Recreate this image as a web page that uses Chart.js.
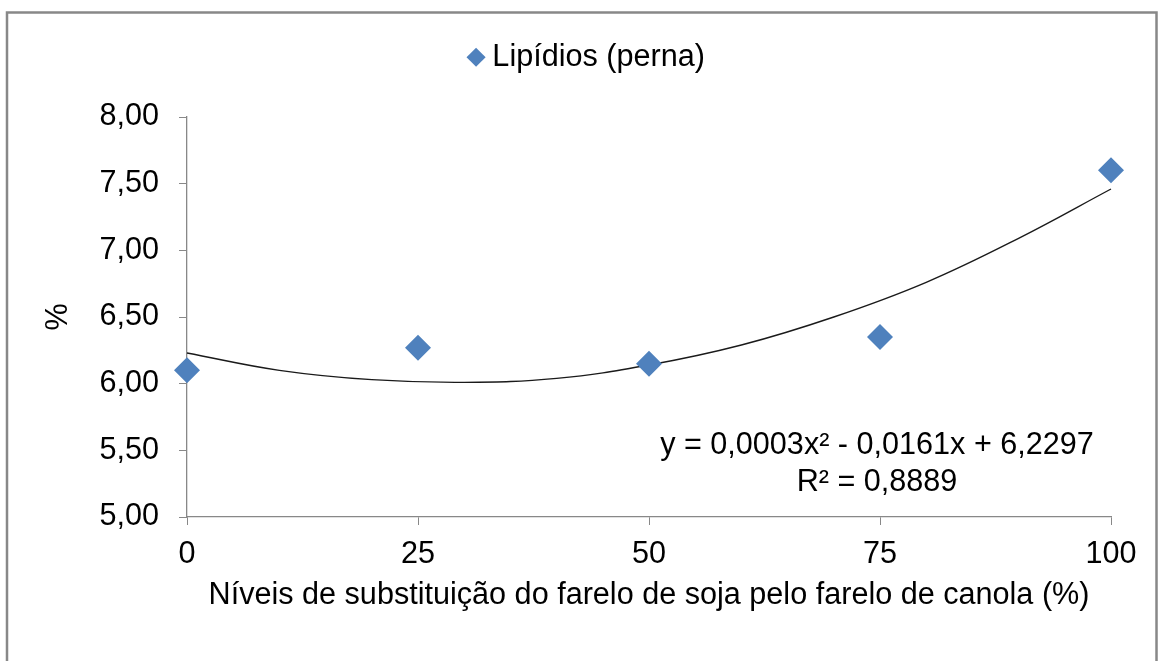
<!DOCTYPE html>
<html>
<head>
<meta charset="utf-8">
<script src="https://cdn.jsdelivr.net/npm/chart.js@4.4.0/dist/chart.umd.min.js"></script>
<style>
  html, body { margin: 0; padding: 0; background: #fff; }
  #wrap { width: 1158px; height: 661px; }
</style>
</head>
<body>
<div id="wrap"><canvas id="c" width="1158" height="661"></canvas></div>
<script>
// ---- data ----
const seriesName = 'Lipídios (perna)';
const levels = [0, 25, 50, 75, 100];
const lipids = [6.10, 6.27, 6.15, 6.35, 7.60];
// polynomial trendline
const trendX = [0, 10, 20, 30, 40, 50, 60, 70, 80, 90, 100];
const trendY = [6.23, 6.10, 6.03, 6.01, 6.04, 6.14, 6.29, 6.50, 6.76, 7.09, 7.46];
const yTicks = [5.00, 5.50, 6.00, 6.50, 7.00, 7.50, 8.00];
const xTicks = [0, 25, 50, 75, 100];
const equationLines = ['y = 0,0003x² - 0,0161x + 6,2297', 'R² = 0,8889'];
const xTitle = 'Níveis de substituição do farelo de soja pelo farelo de canola (%)';
const yTitle = '%';

const FONT = 'Liberation Sans, Arial, sans-serif';
const FS = 30.6;
Chart.defaults.font.family = FONT;
Chart.defaults.font.size = FS;
Chart.defaults.color = '#000';

const pointsData = levels.map((x, i) => ({ x: x, y: lipids[i] }));
const trendData = trendX.map((x, i) => ({ x: x, y: trendY[i] }));

const frame = {
  id: 'frame',
  beforeDraw(chart) {
    const ctx = chart.ctx;
    ctx.save();
    ctx.fillStyle = '#fff';
    ctx.fillRect(0, 0, chart.width, chart.height);
    ctx.strokeStyle = '#888888';
    ctx.lineWidth = 2.5;
    ctx.strokeRect(7, 12.5, 1149.5, 700);
    ctx.restore();
  }
};

const legendShift = {
  id: 'legendShift',
  afterLayout(chart) {
    const lg = chart.legend;
    if (!lg) return;
    const target = 590;
    const d = target - (lg.left + lg.right) / 2;
    lg.left += d; lg.right += d;
  }
};

const legendFit = {
  id: 'legendFit',
  beforeInit(chart) {
    const lg = chart.legend;
    const orig = lg.fit;
    lg.fit = function () { orig.call(this); this.height = 85; };
  }
};

const equation = {
  id: 'equation',
  afterDatasetsDraw(chart) {
    const ctx = chart.ctx;
    ctx.save();
    ctx.font = FS + 'px ' + FONT;
    ctx.fillStyle = '#000';
    ctx.textAlign = 'center';
    ctx.textBaseline = 'middle';
    const cx = 877;
    ctx.fillText(equationLines[0], cx, 446);
    ctx.fillText(equationLines[1], cx, 483);
    ctx.restore();
  }
};

new Chart(document.getElementById('c'), {
  type: 'scatter',
  data: {
    datasets: [
      {
        label: seriesName,
        data: pointsData,
        pointStyle: 'rectRot',
        pointRadius: 13,
        pointHoverRadius: 13,
        backgroundColor: '#4F81BD',
        borderColor: '#4F81BD',
        borderWidth: 0,
        clip: false,
        order: 1
      },
      {
        label: 'trend',
        data: trendData,
        showLine: true,
        tension: 0.4,
        pointRadius: 0,
        borderColor: '#1a1a1a',
        borderWidth: 1.4,
        fill: false,
        clip: false,
        order: 2
      }
    ]
  },
  options: {
    responsive: false,
    animation: false,
    layout: { padding: { left: 10, right: 47, top: 32, bottom: 10 } },
    plugins: {
      legend: {
        display: true,
        position: 'top',
        labels: {
          usePointStyle: true,
          boxHeight: 13.5,
          boxWidth: 2,
          padding: 10,
          color: '#000',
          font: { size: FS },
          filter: (item) => item.datasetIndex === 0
        }
      },
      tooltip: { enabled: false }
    },
    scales: {
      x: {
        type: 'linear',
        min: 0, max: 100,
        afterBuildTicks: (s) => { s.ticks = xTicks.map(v => ({ value: v })); },
        ticks: { padding: 11, color: '#000', font: { size: FS } },
        grid: { display: true, drawOnChartArea: false, drawTicks: true, tickLength: 8, color: '#888' },
        border: { display: true, color: '#888', width: 1.3 },
        title: { display: true, text: xTitle, color: '#000', font: { size: FS }, padding: { top: 0, bottom: 37 } },
        afterFit: (s) => { s.height = 661 - 10 - 517; }
      },
      y: {
        type: 'linear',
        min: 5, max: 8,
        afterBuildTicks: (s) => { s.ticks = yTicks.map(v => ({ value: v })); },
        ticks: { padding: 20, color: '#000', font: { size: FS }, callback: (v) => Number(v).toFixed(2).replace('.', ',') },
        grid: { display: true, drawOnChartArea: false, drawTicks: true, tickLength: 8, color: '#888' },
        border: { display: true, color: '#888', width: 1.3 },
        title: { display: true, text: yTitle, color: '#000', font: { size: FS }, padding: { top: 30, bottom: 0 } },
        afterFit: (s) => { s.width = 187 - 10; }
      }
    }
  },
  plugins: [frame, legendFit, legendShift, equation]
});
</script>
</body>
</html>
